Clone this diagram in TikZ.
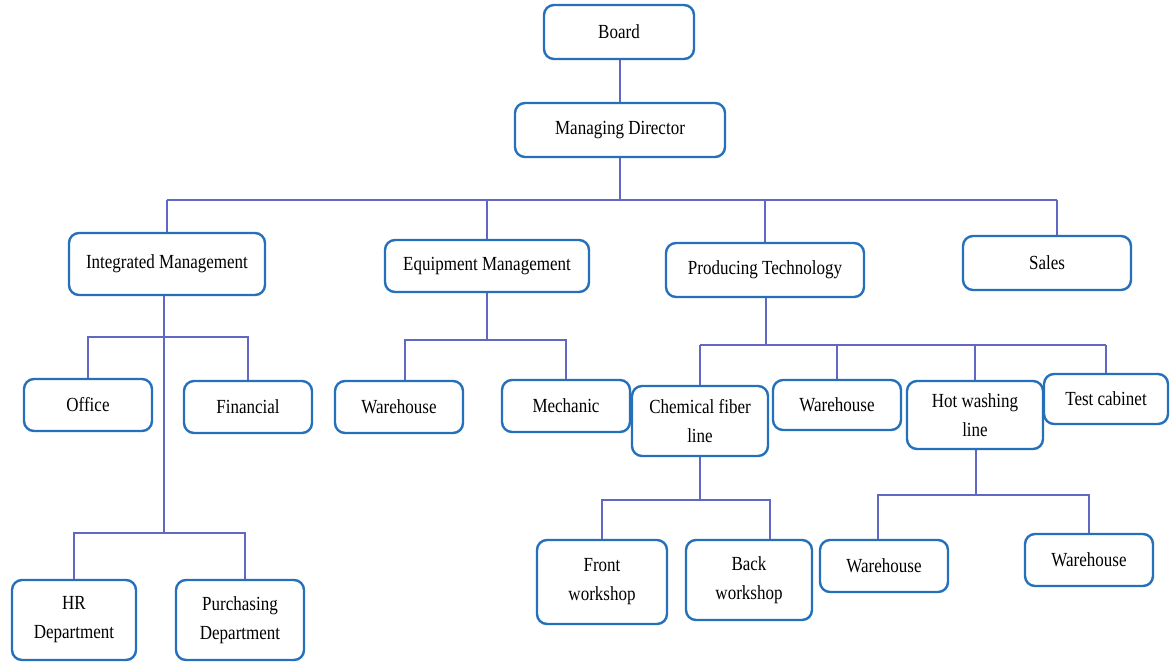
\documentclass[tikz,border=0pt]{standalone}
\usepackage{fontspec}
\setmainfont{Liberation Serif}[FakeStretch=0.85]
\definecolor{boxblue}{RGB}{36,112,186}
\definecolor{linkblue}{RGB}{96,104,196}
\begin{document}
\begin{tikzpicture}[x=0.5pt,y=-0.5pt,
  unit/.style={draw=boxblue, line width=1.2pt, rounded corners=5pt, fill=white,
    align=center, inner sep=2pt, font=\fontsize{10}{14.5}\selectfont},
  link/.style={draw=linkblue, line width=1pt}]
\useasboundingbox (0,0) rectangle (1170,664);

% top of the hierarchy
\node[unit, minimum width=75pt, minimum height=27pt] (board) at (619,32) {Board};
\node[unit, minimum width=105pt, minimum height=27pt] (md) at (620,130) {Managing Director};

% departments
\node[unit, minimum width=98pt, minimum height=31pt] (im) at (167,264) {Integrated Management};
\node[unit, minimum width=102pt, minimum height=26pt] (em) at (487,266) {Equipment Management};
\node[unit, minimum width=99pt, minimum height=27pt] (pt) at (765,270) {Producing Technology};
\node[unit, minimum width=84pt, minimum height=27pt] (sales) at (1047,263) {Sales};

% integrated management units
\node[unit, minimum width=64pt, minimum height=26pt] (office) at (88,405) {Office};
\node[unit, minimum width=64pt, minimum height=26pt] (fin) at (248,407) {Financial};
\node[unit, minimum width=62pt, minimum height=40pt] (hr) at (74,620) {HR\\Department};
\node[unit, minimum width=64pt, minimum height=40pt] (pur) at (240,620) {Purchasing\\Department};

% equipment management units
\node[unit, minimum width=64pt, minimum height=26pt] (wh1) at (399,407) {Warehouse};
\node[unit, minimum width=64pt, minimum height=26pt] (mech) at (566,406) {Mechanic};

% producing technology units
\node[unit, minimum width=68pt, minimum height=35pt] (cfl) at (700,421) {Chemical fiber\\line};
\node[unit, minimum width=64pt, minimum height=25pt] (wh2) at (837,405) {Warehouse};
\node[unit, minimum width=68pt, minimum height=34pt] (hwl) at (975,415) {Hot washing\\line};
\node[unit, minimum width=62pt, minimum height=25pt] (test) at (1106,399) {Test cabinet};

% production line workshops
\node[unit, minimum width=65pt, minimum height=42pt] (front) at (602,582) {Front\\workshop};
\node[unit, minimum width=63pt, minimum height=40pt] (back) at (749,580) {Back\\workshop};
\node[unit, minimum width=64pt, minimum height=26pt] (wh3) at (884,566) {Warehouse};
\node[unit, minimum width=64pt, minimum height=26pt] (wh4) at (1089,560) {Warehouse};

% bus levels
\coordinate (busA) at (620,200);
\coordinate (busIM1) at (164,337);
\coordinate (busIM2) at (164,533);
\coordinate (busEM) at (487,340);
\coordinate (busPT) at (766,345);
\coordinate (busCF) at (700,500);
\coordinate (busHW) at (976,495);

% drop points that sit off the box centre
\coordinate (salesTop) at ([xshift=5pt]sales.north);
\coordinate (purTop) at ([xshift=2.5pt]pur.north);
\coordinate (backTop) at ([xshift=10.5pt]back.north);
\coordinate (wh1Top) at ([xshift=3pt]wh1.north);
\coordinate (wh3Top) at ([xshift=-3pt]wh3.north);

% connectors
\draw[link] (board.south -| md.north) -- (md.north);
\draw[link] (md) -- (busA);
\draw[link] (im.north |- busA) -- (salesTop |- busA);
\foreach \n in {im,em,pt} \draw[link] (\n.north |- busA) -- (\n.north);
\draw[link] (salesTop |- busA) -- (salesTop);

\draw[link] (im.south -| busIM1) -- (busIM2);
\draw[link] (office.north) -- (office.north |- busIM1) -- (fin.north |- busIM1) -- (fin.north);
\draw[link] (hr.north) -- (hr.north |- busIM2) -- (purTop |- busIM2) -- (purTop);

\draw[link] (em.south -| busEM) -- (busEM);
\draw[link] (wh1Top) -- (wh1Top |- busEM) -- (mech.north |- busEM) -- (mech.north);

\draw[link] (pt.south -| busPT) -- (busPT);
\draw[link] (busPT -| cfl.north) -- (busPT -| test.north);
\foreach \n in {cfl,wh2,hwl,test} \draw[link] (busPT -| \n.north) -- (\n.north);

\draw[link] (cfl.south) -- (busCF);
\draw[link] (front.north) -- (front.north |- busCF) -- (backTop |- busCF) -- (backTop);

\draw[link] (hwl.south -| busHW) -- (busHW);
\draw[link] (wh3Top) -- (wh3Top |- busHW) -- (wh4.north |- busHW) -- (wh4.north);
\end{tikzpicture}
\end{document}
